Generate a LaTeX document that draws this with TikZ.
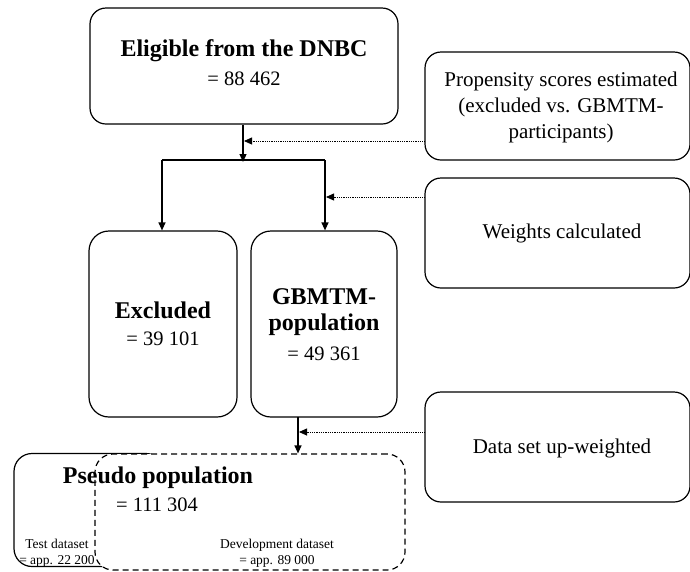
\documentclass[tikz,border=0pt]{standalone}
\usepackage{fontspec}
\setmainfont{Liberation Serif}
\usetikzlibrary{arrows.meta}
\begin{document}
\begin{tikzpicture}[x=1pt,y=-1pt,
  box/.style={draw,line width=1.2pt,rounded corners=16pt,fill=white},
  arr/.style={line width=1.2pt,-{Triangle[length=8pt,width=7pt]}},
  dotarr/.style={line width=0.8pt,densely dotted,-{Triangle[length=8pt,width=7pt]}},
  big/.style={font=\fontsize{24}{28}\selectfont\bfseries},
  num/.style={font=\fontsize{20.5}{24}\selectfont},
  side/.style={font=\fontsize{21}{26}\selectfont,align=center},
  small/.style={font=\fontsize{13.5}{16.5}\selectfont,align=center}]
\useasboundingbox (0,0) rectangle (690,571);
% boxes
\node[box,minimum width=308pt,minimum height=116pt] (elig) at (244,66) {};
\node[big] (eligt) at (244,51) {Eligible from the DNBC};
\node[num] (eligr) at (244,79) {= 88 462};
\node[box,rounded corners=20pt,minimum width=148pt,minimum height=186pt] (excl) at (163,324) {};
\node[big] (exclt) at (163,310) {Excluded};
\node[num] (exclr) at (163,339) {= 39 101};
\node[box,rounded corners=20pt,minimum width=146pt,minimum height=186pt] (gbm) at (324,324) {};
\node[big] (gbmt1) at (324,297) {GBMTM-};
\node[big] (gbmt2) at (324,325) {population};
\node[num] (gbmr) at (324,354) {= 49 361};
\node[box,minimum width=265pt,minimum height=108pt] (prop) at (557.5,106) {};
\node[side] (propt) at (561,107) {Propensity scores estimated\\(excluded vs. GBMTM-\\participants)};
\node[box,minimum width=265pt,minimum height=110pt] (wts) at (557.5,233) {};
\node[side] (wtst) at (562,233) {Weights calculated};
\node[box,minimum width=265pt,minimum height=110pt] (dsu) at (557.5,447) {};
\node[side] (dsut) at (562,448) {Data set up-weighted};
% pseudo population
\node[box,rounded corners=18pt,minimum width=150pt,minimum height=113pt] (test) at (89,510) {};
\node[box,dash pattern=on 6pt off 4pt,rounded corners=18pt,minimum width=310pt,minimum height=116pt] (dev) at (250,512) {};
\node[big] (pseudot) at (158,478) {Pseudo population};
\node[num] (pseudor) at (157,505) {= 111 304};
\node[small] (testt) at (57,553) {Test dataset\\= app. 22 200};
\node[small] (devt) at (277,553) {Development dataset\\= app. 89 000};
% connectors
\coordinate (split) at (243,160);
\coordinate (sl) at (162,160);
\coordinate (sr) at (325,160);
\draw[arr] (elig.south -| split) -- ([yshift=-2pt]split);
\draw[line width=1.2pt] (sl) -- (sr);
\draw[arr] (sl) -- (excl.north -| sl);
\draw[arr] (sr) -- (gbm.north -| sr);
\coordinate (g1) at (298,417);
\draw[arr] (g1) -- (dev.north -| g1);
\coordinate (d1) at (244,141);
\coordinate (d2) at (326,197);
\coordinate (d3) at (299,432);
\draw[dotarr] (prop.west |- d1) -- (d1);
\draw[dotarr] (wts.west |- d2) -- (d2);
\draw[dotarr] (dsu.west |- d3) -- (d3);
\end{tikzpicture}
\end{document}
